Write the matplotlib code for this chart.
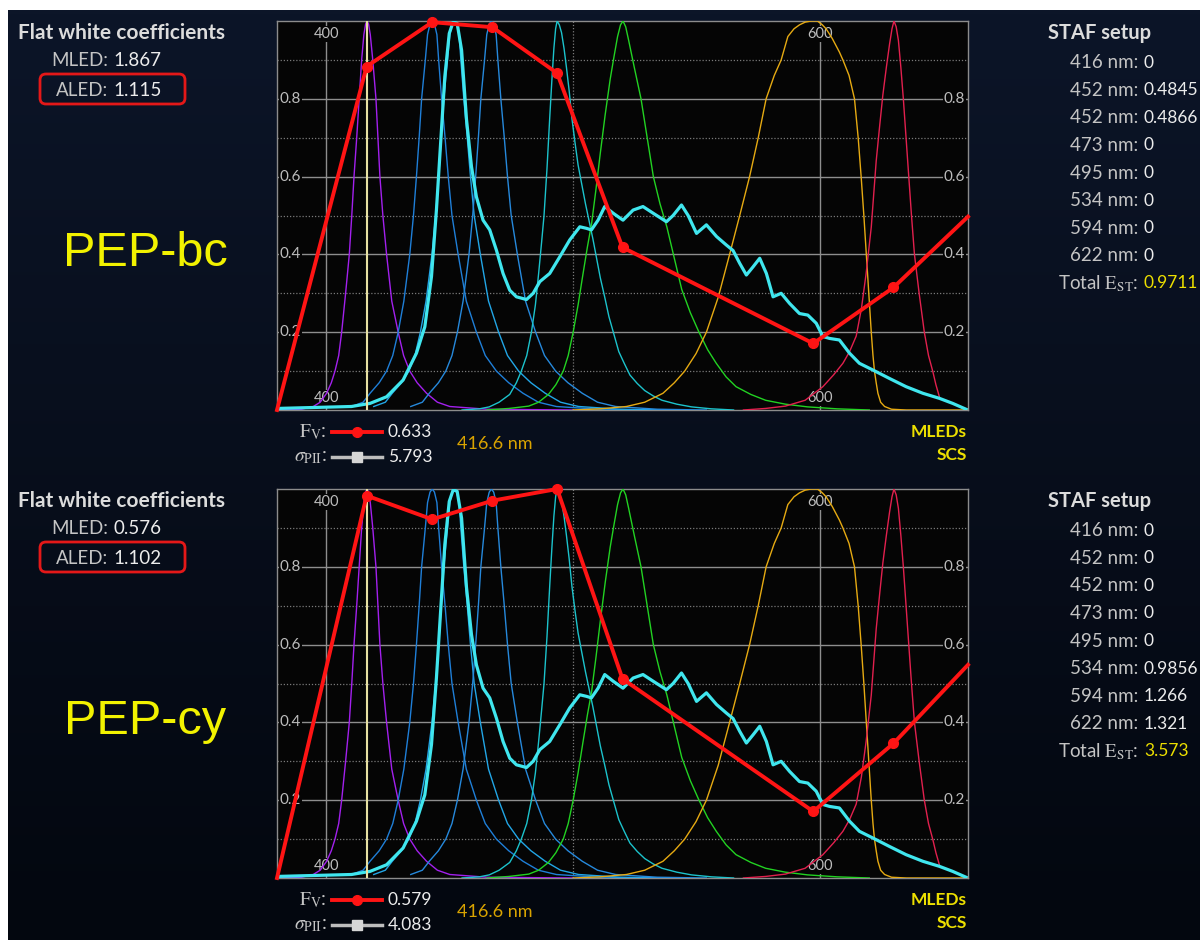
import numpy as np
import matplotlib
matplotlib.use('Agg')
import matplotlib.pyplot as plt
from matplotlib.patches import FancyBboxPatch
from matplotlib.lines import Line2D
from matplotlib.colors import LinearSegmentedColormap

plt.rcParams['font.family'] = ['Lato', 'DejaVu Sans']
plt.rcParams['mathtext.fontset'] = 'stix'

# ---- LED spectra (normalised), wavelength in nm ----
wl_416 = [380, 390, 394.7, 397.5, 400.1, 402, 403.5, 405, 406.2, 407.8, 409.3, 410.3, 411.2, 412.3, 413.3, 414.3,
          415.2, 415.9, 416.5, 417.1, 417.8, 418.8, 420.1, 420.9, 421.7, 422.9, 424.4, 426.5, 429.1, 431.3, 433.8,
          436.8, 440.6, 445, 450, 465, 500]
sp_416 = [0, 0.002, 0.009, 0.02, 0.043, 0.07, 0.1, 0.14, 0.2, 0.3, 0.4, 0.5, 0.6, 0.7, 0.8, 0.9,
          0.965, 0.992, 1.0, 0.992, 0.965, 0.9, 0.8, 0.7, 0.6, 0.5, 0.4, 0.28, 0.2, 0.14, 0.1,
          0.07, 0.043, 0.02, 0.009, 0.002, 0]

wl_443 = [410.2, 414.9, 417.7, 421.4, 424.4, 426.9, 429.1, 431.4, 433.8, 435.3, 436.5, 437.6, 438.6, 440.1, 441,
          442, 442.9, 443.8, 444.8, 445.5, 446.7, 448.1, 449.4, 450.9, 453.4, 456.7, 460.8, 464.4, 468.9, 473.9,
          479.7, 485.9, 493.2, 510, 530]
sp_443 = [0.009, 0.02, 0.043, 0.07, 0.1, 0.14, 0.2, 0.28, 0.4, 0.5, 0.6, 0.7, 0.8, 0.9, 0.965,
          0.992, 1.0, 0.992, 0.965, 0.9, 0.8, 0.7, 0.6, 0.5, 0.4, 0.28, 0.2, 0.14, 0.1, 0.07,
          0.043, 0.02, 0.009, 0.002, 0]

wl_452 = [419.2, 423.9, 426.7, 430.4, 433.4, 435.9, 438.1, 440.4, 442.8, 444.3, 445.5, 446.6, 447.6, 449.1, 450,
          451, 451.9, 452.8, 453.8, 454.5, 455.7, 457.1, 458.4, 459.9, 462.4, 465.7, 469.8, 473.4, 477.9, 482.9,
          488.7, 494.9, 502.2, 519, 539]
sp_452 = [0.009, 0.02, 0.043, 0.07, 0.1, 0.14, 0.2, 0.28, 0.4, 0.5, 0.6, 0.7, 0.8, 0.9, 0.965,
          0.992, 1.0, 0.992, 0.965, 0.9, 0.8, 0.7, 0.6, 0.5, 0.4, 0.28, 0.2, 0.14, 0.1, 0.07,
          0.043, 0.02, 0.009, 0.002, 0]

wl_467 = [434.2, 438.9, 441.7, 445.4, 448.4, 450.9, 453.1, 455.4, 457.8, 459.3, 460.5, 461.6, 462.6, 464.1, 465,
          466, 466.9, 467.8, 468.8, 469.5, 470.7, 472.1, 473.4, 474.9, 477.4, 480.7, 484.8, 488.4, 492.9, 497.9,
          503.7, 509.9, 517.2, 534, 554]
sp_467 = [0.009, 0.02, 0.043, 0.07, 0.1, 0.14, 0.2, 0.28, 0.4, 0.5, 0.6, 0.7, 0.8, 0.9, 0.965,
          0.992, 1.0, 0.992, 0.965, 0.9, 0.8, 0.7, 0.6, 0.5, 0.4, 0.28, 0.2, 0.14, 0.1, 0.07,
          0.043, 0.02, 0.009, 0.002, 0]

wl_495 = [455, 462, 466, 470, 474.3, 477, 479, 481.2, 483.1, 484.7, 486, 487.2, 488.2, 489.4, 490.5, 491.4,
          492.2, 492.9, 493.5, 494.4, 495.3, 496.3, 497.3, 498.4, 499.5, 500.7, 502, 503.5, 505, 506.5, 508,
          509.5, 511, 512.8, 514.5, 516.5, 518.5, 520.7, 523, 526, 529, 532.5, 536, 542, 548, 556, 565]
sp_495 = [0, 0.003, 0.008, 0.02, 0.04, 0.07, 0.1, 0.14, 0.2, 0.27, 0.35, 0.43, 0.5, 0.62, 0.75, 0.85,
          0.93, 0.98, 1.0, 0.99, 0.97, 0.93, 0.88, 0.82, 0.75, 0.69, 0.63, 0.58, 0.53, 0.485, 0.44,
          0.39, 0.34, 0.29, 0.24, 0.195, 0.15, 0.12, 0.09, 0.068, 0.05, 0.036, 0.025, 0.015, 0.008, 0.003, 0]

wl_520 = [465, 474, 482, 486, 490, 493, 496, 498, 500, 502, 504, 505.8, 507.5, 509.3, 511, 513, 515, 516.6,
          518, 519.2, 520.2, 521.3, 522.5, 524.8, 527.5, 530, 532.5, 535.2, 538, 541, 544, 547.5, 551, 554.5,
          558, 562, 566, 572, 578, 586, 595, 607, 620]
sp_520 = [0, 0.004, 0.01, 0.02, 0.04, 0.065, 0.1, 0.14, 0.2, 0.27, 0.35, 0.42, 0.48, 0.57, 0.66, 0.76, 0.85, 0.91,
          0.96, 0.99, 1.0, 0.985, 0.95, 0.88, 0.8, 0.7, 0.6, 0.53, 0.47, 0.39, 0.31, 0.25, 0.2, 0.155,
          0.12, 0.085, 0.06, 0.04, 0.025, 0.015, 0.008, 0.003, 0]

wl_597 = [500, 511, 521.6, 529, 536.4, 541, 545.2, 549.8, 554, 558.8, 563.4, 567.5, 571.5, 575, 578.2, 581.5,
          584.3, 587, 589.5, 591.7, 594, 596.4, 599, 601, 602.5, 605, 607.9, 609.3, 611.8, 614, 615.5, 616.7,
          617.8, 618.8, 619.8, 620.8, 621.5, 622.1, 622.8, 623.5, 624.6, 626.2, 629, 635, 660]
sp_597 = [0, 0.003, 0.009, 0.02, 0.043, 0.07, 0.1, 0.145, 0.2, 0.29, 0.4, 0.5, 0.6, 0.7, 0.8, 0.86,
          0.9, 0.96, 0.98, 0.99, 0.997, 1.0, 1.0, 0.99, 0.98, 0.955, 0.92, 0.9, 0.86, 0.8, 0.7, 0.6,
          0.5, 0.4, 0.3, 0.2, 0.14, 0.1, 0.07, 0.043, 0.02, 0.009, 0.002, 0, 0]

wl_630 = [569, 578, 586, 594, 601.2, 605.5, 609.3, 612, 614.7, 616.8, 618.7, 620.8, 622.8, 624.2, 625.5, 626.9,
          628.2, 629.2, 630, 630.9, 631.8, 632.8, 633.8, 634.9, 636, 637.1, 638.3, 640.2, 642.3, 644, 645.7, 647,
          648.4]
sp_630 = [0, 0.004, 0.01, 0.025, 0.06, 0.09, 0.12, 0.15, 0.19, 0.26, 0.35, 0.47, 0.64, 0.73, 0.81, 0.88,
          0.94, 0.98, 1.0, 0.985, 0.95, 0.88, 0.8, 0.7, 0.6, 0.5, 0.4, 0.3, 0.2, 0.14, 0.1, 0.065,
          0.034]

led_wl = [wl_416, wl_443, wl_452, wl_467, wl_495, wl_520, wl_597, wl_630]
led_sp = [sp_416, sp_443, sp_452, sp_467, sp_495, sp_520, sp_597, sp_630]
led_col = ['#a320ee', '#1f7fd8', '#22a6e6', '#2689dc', '#1cc3cc', '#22d222', '#e6aa12', '#e2204e']

# measured spectrum (thick cyan)
spd_wl = [380, 410.2, 417.7, 424.4, 431.1, 436.5, 439.9, 442.6, 444.6, 446.3, 448, 449.8, 451.4, 453, 454.8,
          456.8, 458.8, 460.8, 463.5, 466.2, 468.9, 471.6, 474.3, 477, 481.1, 483.8, 486.5, 490.5, 494.6,
          498.6, 502.7, 505.4, 507.4, 510.1, 512.8, 516.2, 520.2, 524.3, 528.3, 532.4, 537.8, 540.5, 543.9,
          546.6, 550, 554, 558.1, 562.1, 564.8, 567.5, 570.2, 572.9, 575.6, 578.3, 581, 584.3, 587.7, 591.7,
          595.1, 598.5, 601.2, 603.9, 607.9, 612, 616, 621.4, 628.2, 634.9, 641.7, 648.4, 653.8, 659.2]
spd = [0.004, 0.009, 0.017, 0.034, 0.077, 0.146, 0.214, 0.343, 0.514, 0.686, 0.857, 0.968, 0.998, 0.994, 0.925,
       0.746, 0.626, 0.548, 0.488, 0.463, 0.411, 0.351, 0.308, 0.291, 0.284, 0.3, 0.33, 0.351, 0.394,
       0.437, 0.471, 0.467, 0.463, 0.488, 0.523, 0.506, 0.488, 0.514, 0.523, 0.506, 0.484, 0.5, 0.527,
       0.5, 0.454, 0.476, 0.446, 0.424, 0.41, 0.377, 0.347, 0.368, 0.39, 0.351, 0.291, 0.3, 0.274, 0.248,
       0.244, 0.223, 0.189, 0.184, 0.18, 0.146, 0.12, 0.103, 0.081, 0.06, 0.043, 0.03, 0.017, 0.002]

# Fv curves for the two samples
fv_wl = [380, 416.3, 442.9, 467.3, 493.5, 520, 597.3, 629.8, 660]
fv_bc = [0, 0.883, 0.997, 0.984, 0.866, 0.418, 0.171, 0.315, 0.497]
fv_cy = [0, 0.983, 0.922, 0.970, 1.0, 0.512, 0.171, 0.346, 0.548]

sel_wl = 416.6
names = ['PEP-bc', 'PEP-cy']
mled = [1.867, 0.576]
aled = [1.115, 1.102]
fv_val = [0.633, 0.579]
sigma_pii = [5.793, 4.083]
staf_nm = [416, 452, 452, 473, 495, 534, 594, 622]
staf_bc = [0, 0.4845, 0.4866, 0, 0, 0, 0, 0]
staf_cy = [0, 0, 0, 0, 0, 0.9856, 1.266, 1.321]
total_est = [0.9711, 3.573]

y_major = [0.2, 0.4, 0.6, 0.8]
y_minor = [0.1, 0.3, 0.5, 0.7, 0.9]
x_major = [400, 600]
x_minor = [500]

W, H = 1200, 940


def fx(x):
    return x / W


def fy(y):
    return 1 - y / H


fig = plt.figure(figsize=(12, 9.4), dpi=100, facecolor='white')

# dark background, white strip left and top
bg = fig.add_axes([8 / W, 0, 1 - 8 / W, 1 - 10 / H], zorder=-5)
bg.imshow(np.linspace(0, 1, 256)[:, None], aspect='auto',
          cmap=LinearSegmentedColormap.from_list('bg', ['#0c1528', '#03070f']))
bg.axis('off')

GRAY = '#c4c4c4'
WHITE = '#ececec'
YEL = '#ecdf00'

for i in range(2):
    top = [21, 489][i]
    off = [0, 468][i]
    fv = [fv_bc, fv_cy][i]
    staf = [staf_bc, staf_cy][i]

    ax = fig.add_axes([277 / W, 1 - (top + 389) / H, 691 / W, 389 / H], facecolor='#050505')
    ax.set_xlim(380, 660)
    ax.set_ylim(0, 1)
    ax.set_xticks([])
    ax.set_yticks([])
    for s in ax.spines.values():
        s.set_color('#8c8c8c')
        s.set_linewidth(1)

    # grid
    for y in y_major:
        ax.axhline(y, color='#8e8e8e', lw=1.0, zorder=1)
    for y in y_minor:
        ax.axhline(y, color='#7a7a7a', lw=0.9, ls=(0, (1, 1.5)), zorder=1)
    for x in x_major:
        ax.axvline(x, color='#8e8e8e', lw=1.0, zorder=1)
    for x in x_minor:
        ax.axvline(x, color='#7a7a7a', lw=0.9, ls=(0, (1, 1.5)), zorder=1)

    # tick labels inside the frame
    yt = ax.get_yaxis_transform()
    xt = ax.get_xaxis_transform()
    for y in y_major:
        ax.text(0.004, y, f'{y:.1f}', transform=yt, ha='left', va='center', color='#bdbdbd',
                fontsize=11, zorder=2, bbox=dict(fc='#050505', ec='none', pad=0.6))
        ax.text(0.996, y, f'{y:.1f}', transform=yt, ha='right', va='center', color='#bdbdbd',
                fontsize=11, zorder=2, bbox=dict(fc='#050505', ec='none', pad=0.6))
    for x in x_major:
        ax.text(x, 0.967, f'{x}', transform=xt, ha='center', va='center', color='#bdbdbd',
                fontsize=10.5, zorder=2, bbox=dict(fc='#050505', ec='none', pad=0.6))
        ax.text(x, 0.031, f'{x}', transform=xt, ha='center', va='center', color='#bdbdbd',
                fontsize=10.5, zorder=2, bbox=dict(fc='#050505', ec='none', pad=0.6))

    # LED spectra
    for w, sp, c in zip(led_wl, led_sp, led_col):
        ax.plot(w, sp, color=c, lw=1.0, zorder=3, solid_joinstyle='round')
    ax.plot(spd_wl, spd, color='#40e6ee', lw=2.3, zorder=4, solid_joinstyle='round')
    ax.axvline(sel_wl, color='#e6e0a2', lw=1.5, zorder=5)
    ax.plot(fv_wl, fv, color='#ff1414', lw=2.8, marker='o', ms=7, markevery=list(range(1, len(fv_wl) - 1)),
            zorder=6, clip_on=False, solid_joinstyle='round')

    # left block
    fig.text(fx(18), fy(33 + off), 'Flat white coefficients', fontsize=15, weight='bold', color='#dcdcdc',
             ha='left', va='center')
    fig.text(fx(108), fy(60 + off), 'MLED:', fontsize=13.5, color=GRAY, ha='right', va='center')
    fig.text(fx(113), fy(60 + off), f'{mled[i]:.3f}', fontsize=13.5, color=WHITE, ha='left', va='center')
    fig.text(fx(108), fy(90 + off), 'ALED:', fontsize=13.5, color=GRAY, ha='right', va='center')
    fig.text(fx(113), fy(90 + off), f'{aled[i]:.3f}', fontsize=13.5, color=WHITE, ha='left', va='center')
    fig.add_artist(FancyBboxPatch((0.40, (H - 104 - off) / 100), 1.45, 0.30,
                                  boxstyle='round,pad=0,rounding_size=0.06', transform=fig.dpi_scale_trans,
                                  fill=False, ec='#e41818', lw=2))
    fig.text(fx(145), fy(253 + off), names[i], fontsize=35, color='#f2f200', family='Liberation Sans',
             ha='center', va='center')

    # right block
    fig.text(fx(1100), fy(33 + off), 'STAF setup', fontsize=14.5, weight='bold', color='#dcdcdc',
             ha='center', va='center')
    for k, (nm, v) in enumerate(zip(staf_nm, staf)):
        yy = 62.7 + 27.6 * k + off
        fig.text(fx(1138), fy(yy), f'{nm} nm:', fontsize=13.5, color=GRAY, ha='right', va='center')
        fig.text(fx(1144), fy(yy), f'{v:g}', fontsize=12.5, color=WHITE, ha='left', va='center')
    yy = 62.7 + 27.6 * 8 + off
    fig.text(fx(1138), fy(yy), r'Total $\mathrm{E}_{\mathrm{ST}}$:', fontsize=13.5, color=GRAY,
             ha='right', va='center')
    fig.text(fx(1144), fy(yy), f'{total_est[i]:g}', fontsize=12.5, color=YEL, ha='left', va='center')

    # under the plot
    fig.text(fx(327), fy(432 + off), r'$\mathrm{F}_{\mathrm{V}}$:', fontsize=14, color=GRAY,
             ha='right', va='center')
    fig.add_artist(Line2D([fx(332), fx(357), fx(382)], [fy(432 + off)] * 3, transform=fig.transFigure,
                          color='#ff1414', lw=2.8, marker='o', ms=7, markevery=[1]))
    fig.text(fx(388), fy(432 + off), f'{fv_val[i]:.3f}', fontsize=12.5, color=WHITE, ha='left', va='center')
    fig.text(fx(327), fy(457 + off), r'$\sigma_{\mathrm{PII}}$:', fontsize=14, color=GRAY,
             ha='right', va='center')
    fig.add_artist(Line2D([fx(332), fx(357), fx(382)], [fy(457 + off)] * 3, transform=fig.transFigure,
                          color='#bdbdbd', lw=2.5, marker='s', ms=7, mfc='#d6d6d6', mec='#d6d6d6',
                          markevery=[1]))
    fig.text(fx(388), fy(457 + off), f'{sigma_pii[i]:.3f}', fontsize=12.5, color=WHITE, ha='left', va='center')
    fig.text(fx(457), fy(444 + off), f'{sel_wl} nm', fontsize=13, color='#d9a300', ha='left', va='center')
    fig.text(fx(967), fy(432 + off), 'MLEDs', fontsize=12.5, weight='bold', color=YEL, ha='right', va='center')
    fig.text(fx(967), fy(455 + off), 'SCS', fontsize=12.5, weight='bold', color=YEL, ha='right', va='center')

fig.savefig('out.png', dpi=100, facecolor=fig.get_facecolor())
